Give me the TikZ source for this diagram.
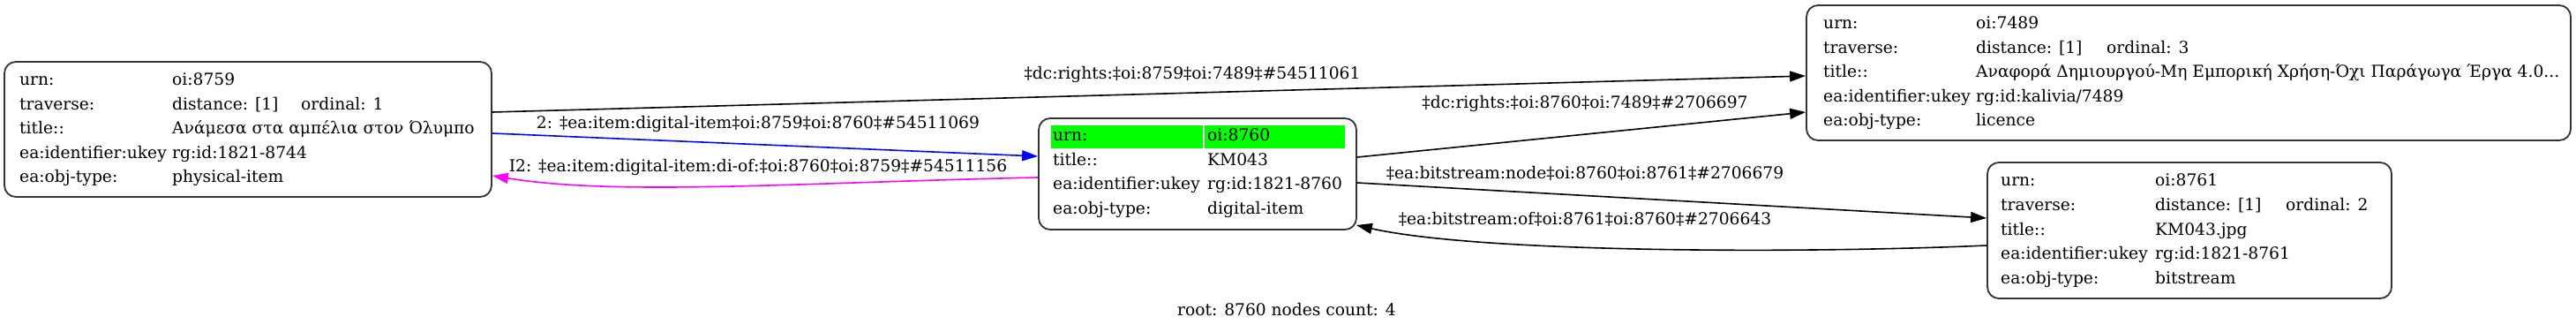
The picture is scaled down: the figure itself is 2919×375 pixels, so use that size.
\documentclass[tikz,border=0pt]{standalone}
\usepackage{fontspec}
\setmainfont{DejaVu Serif}
\usetikzlibrary{arrows.meta}
\definecolor{hl}{HTML}{00FF00}
\definecolor{mag}{HTML}{FF00FF}
\tikzset{
  box/.style={draw=black!80, line width=1.8pt, rounded corners=13pt, inner sep=0pt, fill=white},
  txt/.style={anchor=west, inner sep=0pt, text height=13pt, text depth=4pt},
  lbl/.style={anchor=center, inner sep=0pt, text height=13pt, text depth=4pt},
  cell/.style={fill=hl, inner sep=0pt, draw=none},
  edge/.style={line width=1.6pt, -{Triangle[length=18pt,width=12pt]}},
}
\begin{document}
\begin{tikzpicture}[x=1pt,y=-1pt,font=\fontsize{18.67pt}{22pt}\selectfont]
\useasboundingbox (0,0) rectangle (2919,375);
% boxes
\node[box, minimum width=552pt, minimum height=153pt] (A) at (281,146.5) {};
\node[box, minimum width=360pt, minimum height=126pt] (B) at (1357,197) {};
\node[box, minimum width=866pt, minimum height=153pt] (C) at (2480,82.5) {};
\node[box, minimum width=458pt, minimum height=154pt] (D) at (2481,261) {};
% node A
\node[txt] (a1) at (22,92) {urn:};
\node[txt] (a1v) at (195,92) {oi:8759};
\node[txt] (a2) at (22,119.5) {traverse:};
\node[txt] (a2v) at (195,119.5) {distance: [1]};
\node[txt] (a2w) at (341,119.5) {ordinal: 1};
\node[txt] (a3) at (22,147) {title::};
\node[txt] (a3v) at (195,147) {Ανάμεσα στα αμπέλια στον Όλυμπο};
\node[txt] (a4) at (22,174.5) {ea:identifier:ukey};
\node[txt] (a4v) at (195,174.5) {rg:id:1821-8744};
\node[txt] (a5) at (22,202) {ea:obj-type:};
\node[txt] (a5v) at (195,202) {physical-item};
% node B
\node[cell, minimum width=172pt, minimum height=26pt] (g1) at (1277,155) {};
\node[cell, minimum width=159pt, minimum height=26pt] (g2) at (1444.5,155) {};
\node[txt] (b1) at (1193,155) {urn:};
\node[txt] (b1v) at (1368,155) {oi:8760};
\node[txt] (b2) at (1193,182.5) {title::};
\node[txt] (b2v) at (1368,182.5) {KM043};
\node[txt] (b3) at (1193,210) {ea:identifier:ukey};
\node[txt] (b3v) at (1368,210) {rg:id:1821-8760};
\node[txt] (b4) at (1193,238) {ea:obj-type:};
\node[txt] (b4v) at (1368,238) {digital-item};
% node C
\node[txt] (c1) at (2066,28) {urn:};
\node[txt] (c1v) at (2239,28) {oi:7489};
\node[txt] (c2) at (2066,55.5) {traverse:};
\node[txt] (c2v) at (2239,55.5) {distance: [1]};
\node[txt] (c2w) at (2387,55.5) {ordinal: 3};
\node[txt] (c3) at (2066,83) {title::};
\node[txt] (c3v) at (2239,83) {Αναφορά Δημιουργού-Μη Εμπορική Χρήση-Όχι Παράγωγα Έργα 4.0...};
\node[txt] (c4) at (2066,110.5) {ea:identifier:ukey};
\node[txt] (c4v) at (2239,110.5) {rg:id:kalivia/7489};
\node[txt] (c5) at (2066,138) {ea:obj-type:};
\node[txt] (c5v) at (2239,138) {licence};
% node D
\node[txt] (d1) at (2267,206) {urn:};
\node[txt] (d1v) at (2442,206) {oi:8761};
\node[txt] (d2) at (2267,233.5) {traverse:};
\node[txt] (d2v) at (2442,233.5) {distance: [1]};
\node[txt] (d2w) at (2590,233.5) {ordinal: 2};
\node[txt] (d3) at (2267,261.5) {title::};
\node[txt] (d3v) at (2442,261.5) {KM043.jpg};
\node[txt] (d4) at (2267,289) {ea:identifier:ukey};
\node[txt] (d4v) at (2442,289) {rg:id:1821-8761};
\node[txt] (d5) at (2267,317) {ea:obj-type:};
\node[txt] (d5v) at (2442,317) {bitstream};
% edges
\draw[edge] ([yshift=19.5pt]A.east) -- ([yshift=-3.5pt]C.west);
\draw[edge, blue] ([yshift=-4.5pt]A.east) -- ([yshift=20pt]B.west);
\draw[edge, mag] ([yshift=-4pt]B.west) .. controls (900,207) and (700,222) .. ([yshift=-52.5pt]A.east);
\draw[edge] ([yshift=19pt]B.east) -- ([yshift=-44.5pt]C.west);
\draw[edge] ([yshift=-10pt]B.east) -- ([yshift=14pt]D.west);
\draw[edge] ([yshift=-17pt]D.west) .. controls (2050,287) and (1680,287) .. ([xshift=-1pt,yshift=-58pt]B.east);
% labels
\node[lbl] (l1) at (1351,85) {‡dc:rights:‡oi:8759‡oi:7489‡\#54511061};
\node[lbl] (l2) at (859,141) {2: ‡ea:item:digital-item‡oi:8759‡oi:8760‡\#54511069};
\node[lbl] (l3) at (859,190) {I2: ‡ea:item:digital-item:di-of:‡oi:8760‡oi:8759‡\#54511156};
\node[lbl] (l4) at (1796,118) {‡dc:rights:‡oi:8760‡oi:7489‡\#2706697};
\node[lbl] (l5) at (1796,198) {‡ea:bitstream:node‡oi:8760‡oi:8761‡\#2706679};
\node[lbl] (l6) at (1796,250) {‡ea:bitstream:of‡oi:8761‡oi:8760‡\#2706643};
\node[lbl] (root) at (1458,353) {root: 8760 nodes count: 4};
\end{tikzpicture}
\end{document}
